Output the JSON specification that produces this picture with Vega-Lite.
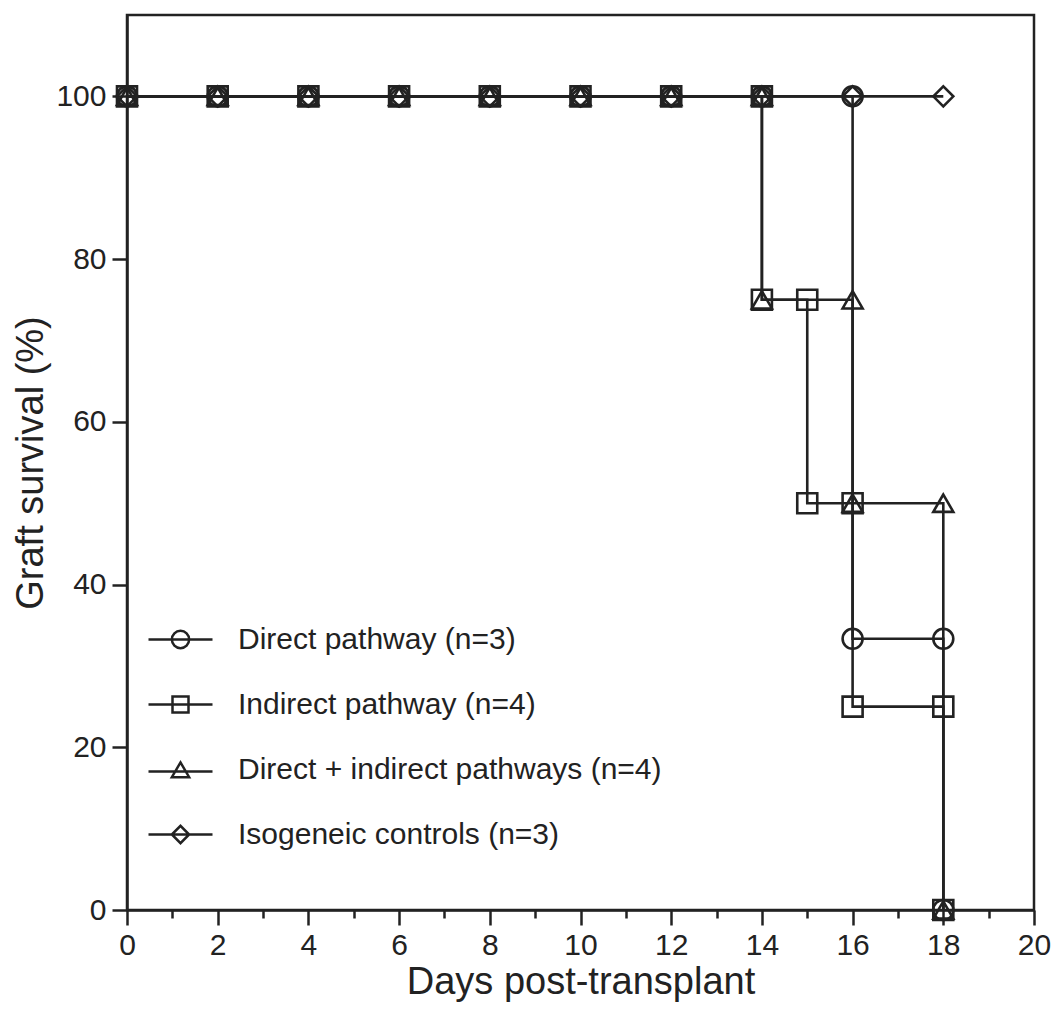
{
  "$schema": "https://vega.github.io/schema/vega-lite/v6.json",
  "autosize": {"type": "none"},
  "padding": {"left": 127, "top": 15, "right": 24, "bottom": 103},
  "width": 907,
  "height": 895,
  "background": "white",
  "config": {
    "view": {"stroke": "#222", "strokeWidth": 2.5},
    "font": "Liberation Sans",
    "axis": {
      "grid": false,
      "labelFlush": false,
      "labelOverlap": false,
      "domainColor": "#222",
      "domainWidth": 2.5,
      "tickColor": "#222",
      "tickWidth": 2.5,
      "labelColor": "#222",
      "labelFont": "Liberation Sans",
      "labelFontSize": 30,
      "titleColor": "#222",
      "titleFont": "Liberation Sans",
      "titleFontSize": 38,
      "titleFontWeight": "normal"
    },
    "legend": {
      "labelFont": "Liberation Sans",
      "labelFontSize": 30,
      "labelColor": "#222",
      "labelLimit": 0
    }
  },
  "data": {
    "values": [
      {"series": "Direct pathway (n=3)", "i": 0, "day": 0, "survival": 100},
      {"series": "Direct pathway (n=3)", "i": 1, "day": 2, "survival": 100},
      {"series": "Direct pathway (n=3)", "i": 2, "day": 4, "survival": 100},
      {"series": "Direct pathway (n=3)", "i": 3, "day": 6, "survival": 100},
      {"series": "Direct pathway (n=3)", "i": 4, "day": 8, "survival": 100},
      {"series": "Direct pathway (n=3)", "i": 5, "day": 10, "survival": 100},
      {"series": "Direct pathway (n=3)", "i": 6, "day": 12, "survival": 100},
      {"series": "Direct pathway (n=3)", "i": 7, "day": 14, "survival": 100},
      {"series": "Direct pathway (n=3)", "i": 8, "day": 16, "survival": 100},
      {"series": "Direct pathway (n=3)", "i": 9, "day": 16, "survival": 33.33},
      {"series": "Direct pathway (n=3)", "i": 10, "day": 18, "survival": 33.33},
      {"series": "Direct pathway (n=3)", "i": 11, "day": 18, "survival": 0},
      {"series": "Indirect pathway (n=4)", "i": 0, "day": 0, "survival": 100},
      {"series": "Indirect pathway (n=4)", "i": 1, "day": 2, "survival": 100},
      {"series": "Indirect pathway (n=4)", "i": 2, "day": 4, "survival": 100},
      {"series": "Indirect pathway (n=4)", "i": 3, "day": 6, "survival": 100},
      {"series": "Indirect pathway (n=4)", "i": 4, "day": 8, "survival": 100},
      {"series": "Indirect pathway (n=4)", "i": 5, "day": 10, "survival": 100},
      {"series": "Indirect pathway (n=4)", "i": 6, "day": 12, "survival": 100},
      {"series": "Indirect pathway (n=4)", "i": 7, "day": 14, "survival": 100},
      {"series": "Indirect pathway (n=4)", "i": 8, "day": 14, "survival": 75},
      {"series": "Indirect pathway (n=4)", "i": 9, "day": 15, "survival": 75},
      {"series": "Indirect pathway (n=4)", "i": 10, "day": 15, "survival": 50},
      {"series": "Indirect pathway (n=4)", "i": 11, "day": 16, "survival": 50},
      {"series": "Indirect pathway (n=4)", "i": 12, "day": 16, "survival": 25},
      {"series": "Indirect pathway (n=4)", "i": 13, "day": 18, "survival": 25},
      {"series": "Indirect pathway (n=4)", "i": 14, "day": 18, "survival": 0},
      {"series": "Direct + indirect pathways (n=4)", "i": 0, "day": 0, "survival": 100},
      {"series": "Direct + indirect pathways (n=4)", "i": 1, "day": 2, "survival": 100},
      {"series": "Direct + indirect pathways (n=4)", "i": 2, "day": 4, "survival": 100},
      {"series": "Direct + indirect pathways (n=4)", "i": 3, "day": 6, "survival": 100},
      {"series": "Direct + indirect pathways (n=4)", "i": 4, "day": 8, "survival": 100},
      {"series": "Direct + indirect pathways (n=4)", "i": 5, "day": 10, "survival": 100},
      {"series": "Direct + indirect pathways (n=4)", "i": 6, "day": 12, "survival": 100},
      {"series": "Direct + indirect pathways (n=4)", "i": 7, "day": 14, "survival": 100},
      {"series": "Direct + indirect pathways (n=4)", "i": 8, "day": 14, "survival": 75},
      {"series": "Direct + indirect pathways (n=4)", "i": 9, "day": 16, "survival": 75},
      {"series": "Direct + indirect pathways (n=4)", "i": 10, "day": 16, "survival": 50},
      {"series": "Direct + indirect pathways (n=4)", "i": 11, "day": 18, "survival": 50},
      {"series": "Direct + indirect pathways (n=4)", "i": 12, "day": 18, "survival": 0},
      {"series": "Isogeneic controls (n=3)", "i": 0, "day": 0, "survival": 100},
      {"series": "Isogeneic controls (n=3)", "i": 1, "day": 2, "survival": 100},
      {"series": "Isogeneic controls (n=3)", "i": 2, "day": 4, "survival": 100},
      {"series": "Isogeneic controls (n=3)", "i": 3, "day": 6, "survival": 100},
      {"series": "Isogeneic controls (n=3)", "i": 4, "day": 8, "survival": 100},
      {"series": "Isogeneic controls (n=3)", "i": 5, "day": 10, "survival": 100},
      {"series": "Isogeneic controls (n=3)", "i": 6, "day": 12, "survival": 100},
      {"series": "Isogeneic controls (n=3)", "i": 7, "day": 14, "survival": 100},
      {"series": "Isogeneic controls (n=3)", "i": 8, "day": 16, "survival": 100},
      {"series": "Isogeneic controls (n=3)", "i": 9, "day": 18, "survival": 100}
    ]
  },
  "layer": [
    {
      "mark": {"type": "line", "color": "#222", "strokeWidth": 2.6},
      "encoding": {
        "x": {
          "field": "day", "type": "quantitative",
          "scale": {"domain": [0, 20], "nice": false, "zero": false},
          "axis": {
            "orient": "bottom",
            "values": [0, 2, 4, 6, 8, 10, 12, 14, 16, 18, 20],
            "tickSize": 15, "labelPadding": 5,
            "title": "Days post-transplant", "titlePadding": 3
          }
        },
        "y": {
          "field": "survival", "type": "quantitative",
          "scale": {"domain": [0, 110], "nice": false},
          "axis": {
            "values": [0, 20, 40, 60, 80, 100],
            "tickSize": 15, "labelPadding": 6,
            "title": "Graft survival (%)", "titlePadding": 5
          }
        },
        "detail": {"field": "series"},
        "order": {"field": "i"}
      }
    },
    {
      "mark": {"type": "point", "filled": false, "color": "#222", "strokeWidth": 2.6, "size": 400, "opacity": 1},
      "encoding": {
        "x": {"field": "day", "type": "quantitative", "axis": null},
        "y": {"field": "survival", "type": "quantitative"},
        "shape": {
          "field": "series", "type": "nominal",
          "scale": {
            "domain": ["Direct pathway (n=3)", "Indirect pathway (n=4)", "Direct + indirect pathways (n=4)", "Isogeneic controls (n=3)"],
            "range": ["circle", "square", "triangle-up", "diamond"]
          },
          "legend": null
        }
      }
    },
    {
      "mark": {"type": "point", "filled": false, "color": "#222", "opacity": 0},
      "encoding": {
        "x": {
          "field": "day", "type": "quantitative",
          "axis": {
            "orient": "bottom",
            "values": [1, 3, 5, 7, 9, 11, 13, 15, 17, 19],
            "tickSize": 8, "labels": false, "domain": false, "title": null
          }
        },
        "y": {"field": "survival", "type": "quantitative"},
        "shape": {
          "field": "series", "type": "nominal",
          "scale": {
            "domain": ["Direct pathway (n=3)", "Indirect pathway (n=4)", "Direct + indirect pathways (n=4)", "Isogeneic controls (n=3)"],
            "range": [
              "M-1,0L1,0M0.27,0A0.27,0.27 0 1 1 -0.27,0A0.27,0.27 0 1 1 0.27,0Z",
              "M-1,0L1,0M-0.25,-0.25L0.25,-0.25L0.25,0.25L-0.25,0.25Z",
              "M-1,0.06L1,0.06M0,-0.22L0.27,0.24L-0.27,0.24Z",
              "M-1,0L1,0M-0.27,0L0,-0.27L0.27,0L0,0.27Z"
            ]
          },
          "legend": {
            "title": null,
            "orient": "none",
            "legendX": 20,
            "legendY": 591,
            "padding": 0,
            "symbolSize": 4096,
            "symbolStrokeWidth": 2.5,
            "symbolStrokeColor": "#222",
            "symbolFillColor": "transparent",
            "symbolOpacity": 1,
            "labelOffset": 24,
            "rowPadding": 16,
            "labelFontSize": 30,
            "labelLimit": 0
          }
        }
      }
    }
  ],
  "resolve": {
    "scale": {"shape": "independent"},
    "axis": {"x": "independent"},
    "legend": {"shape": "independent"}
  }
}
